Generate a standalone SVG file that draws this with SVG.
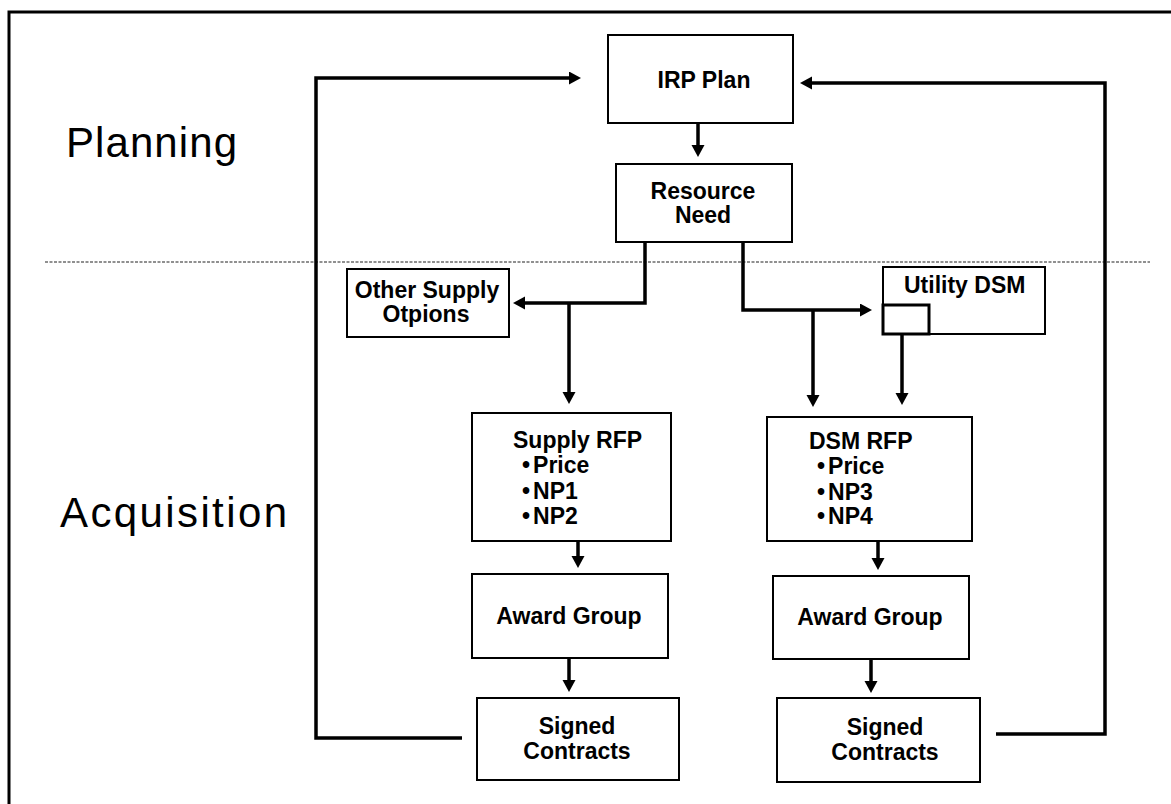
<svg xmlns="http://www.w3.org/2000/svg" width="1171" height="804" viewBox="0 0 1171 804">
<style>
.box{fill:#fff;stroke:#000;stroke-width:2}
.t{font-family:"Liberation Sans",Arial,sans-serif;font-weight:bold;font-size:23px;fill:#000}
.c{text-anchor:middle}
.big{font-family:"Liberation Sans",Arial,sans-serif;font-size:42px;fill:#000}
.con{fill:none;stroke:#000;stroke-width:3.5}
</style>
<defs>
<marker id="ah" markerUnits="userSpaceOnUse" markerWidth="14" markerHeight="14" refX="1" refY="6.5" orient="auto">
<path d="M0,0 L12,6.5 L0,13 z" fill="#000"/>
</marker>
</defs>
<rect width="1171" height="804" fill="#fff"/>
<path d="M9,804 V12 H1171" fill="none" stroke="#000" stroke-width="3"/>
<line x1="45" y1="262" x2="1150" y2="262" stroke="#222" stroke-width="1.2" stroke-dasharray="3 1.5"/>
<g id="labels">
<text class="big" x="66" y="157" textLength="171" lengthAdjust="spacing">Planning</text>
<text class="big" x="60" y="527" textLength="227" lengthAdjust="spacing">Acquisition</text>
</g>
<g id="connectors">
<path class="con" d="M462,738 H316 V78 H570" marker-end="url(#ah)"/>
<path class="con" d="M996,734 H1105 V83 H811" marker-end="url(#ah)"/>
<path class="con" d="M698,123 V146" marker-end="url(#ah)"/>
<path class="con" d="M645,242 V303 H524" marker-end="url(#ah)"/>
<path class="con" d="M569,303 V393" marker-end="url(#ah)"/>
<path class="con" d="M743,242 V310 H861" marker-end="url(#ah)"/>
<path class="con" d="M813,310 V396" marker-end="url(#ah)"/>
<path class="con" d="M902,334 V394" marker-end="url(#ah)"/>
<path class="con" d="M578,541 V557" marker-end="url(#ah)"/>
<path class="con" d="M569,658 V681" marker-end="url(#ah)"/>
<path class="con" d="M878,541 V559" marker-end="url(#ah)"/>
<path class="con" d="M871,659 V682" marker-end="url(#ah)"/>
</g>
<g id="irp">
<rect class="box" x="608" y="35" width="185" height="88"/>
<text class="t c" x="704" y="88">IRP Plan</text>
</g>
<g id="resource">
<rect class="box" x="616" y="164" width="176" height="78"/>
<text class="t c" x="703" y="199">Resource</text>
<text class="t c" x="703" y="223">Need</text>
</g>
<g id="other">
<rect class="box" x="347" y="269" width="162" height="68"/>
<text class="t c" x="427" y="298">Other Supply</text>
<text class="t c" x="426" y="322">Otpions</text>
</g>
<g id="utility">
<rect class="box" x="883" y="267" width="162" height="67"/>
<rect x="883" y="305" width="46" height="29" fill="#fff" stroke="#000" stroke-width="3"/>
<text class="t" x="904" y="293">Utility DSM</text>
</g>
<g id="supplyrfp">
<rect class="box" x="472" y="413" width="199" height="128"/>
<text class="t" x="513" y="448">Supply RFP</text>
<text class="t" x="522" y="473">•<tspan dx="3">Price</tspan></text>
<text class="t" x="522" y="499">•<tspan dx="3">NP1</tspan></text>
<text class="t" x="522" y="524">•<tspan dx="3">NP2</tspan></text>
</g>
<g id="dsmrfp">
<rect class="box" x="767" y="417" width="205" height="124"/>
<text class="t" x="809" y="449">DSM RFP</text>
<text class="t" x="817" y="474">•<tspan dx="3">Price</tspan></text>
<text class="t" x="817" y="500">•<tspan dx="3">NP3</tspan></text>
<text class="t" x="817" y="524">•<tspan dx="3">NP4</tspan></text>
</g>
<g id="award1">
<rect class="box" x="472" y="574" width="196" height="84"/>
<text class="t c" x="569" y="624">Award Group</text>
</g>
<g id="award2">
<rect class="box" x="773" y="576" width="196" height="83"/>
<text class="t c" x="870" y="625">Award Group</text>
</g>
<g id="signed1">
<rect class="box" x="477" y="698" width="202" height="82"/>
<text class="t c" x="577" y="734">Signed</text>
<text class="t c" x="577" y="759">Contracts</text>
</g>
<g id="signed2">
<rect class="box" x="777" y="698" width="203" height="84"/>
<text class="t c" x="885" y="735">Signed</text>
<text class="t c" x="885" y="760">Contracts</text>
</g>
</svg>
